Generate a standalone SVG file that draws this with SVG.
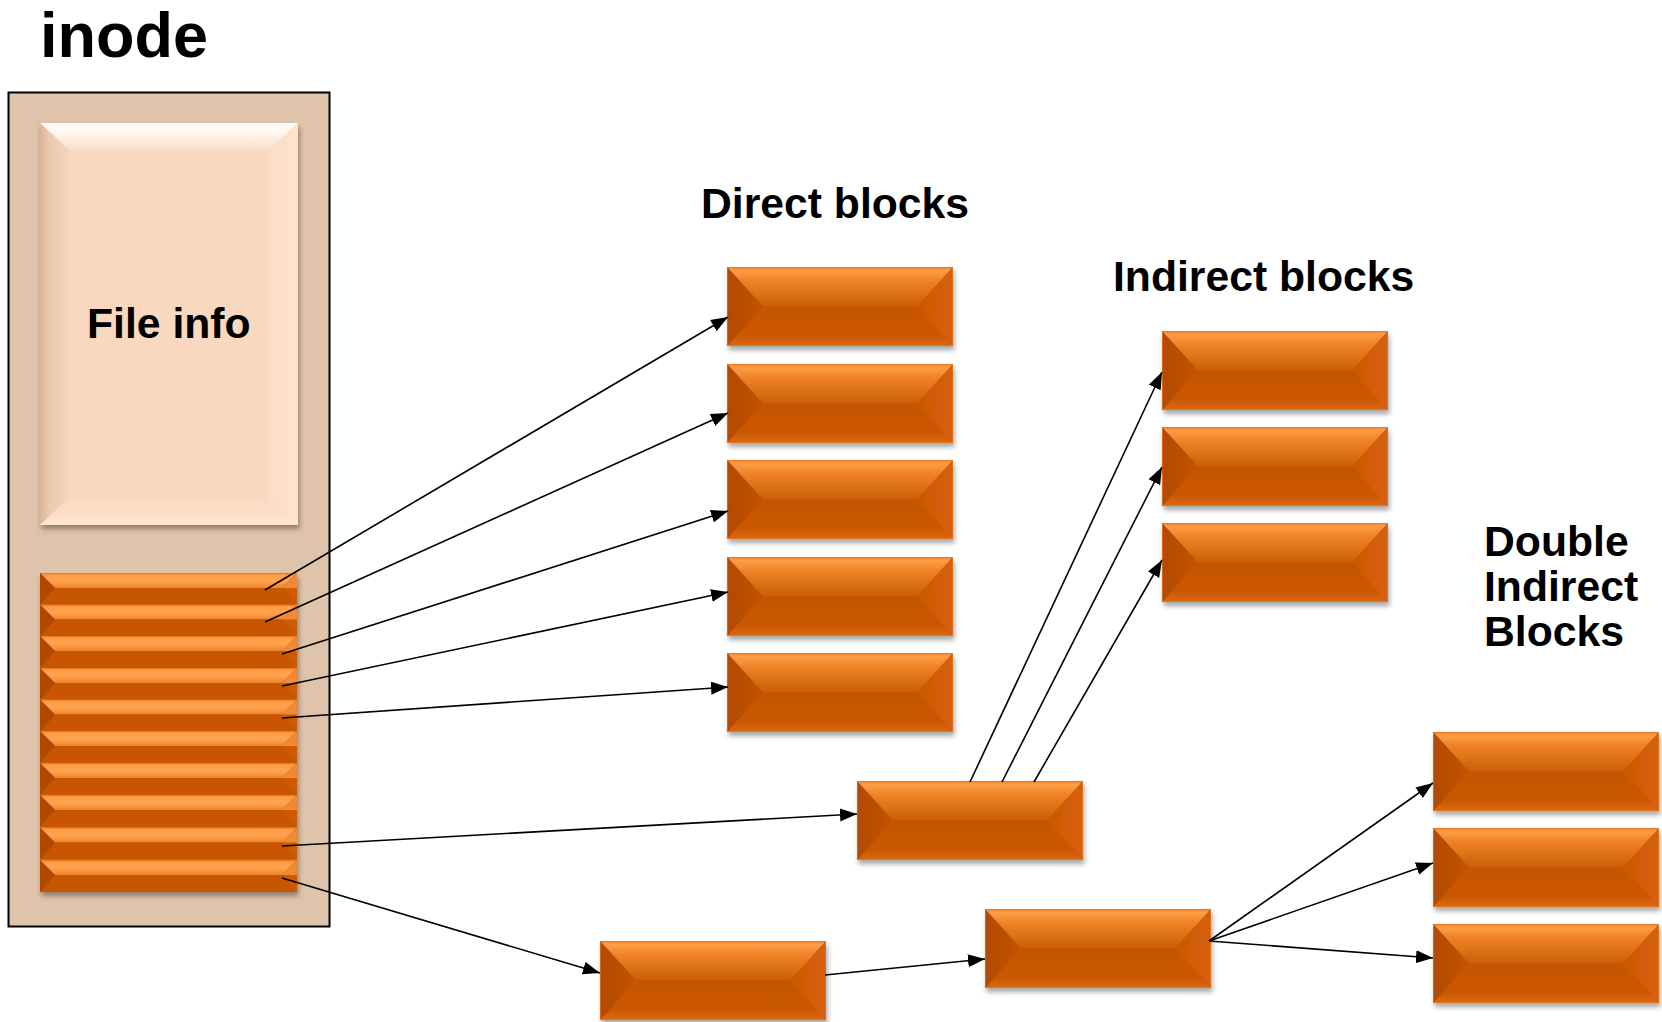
<svg xmlns="http://www.w3.org/2000/svg" xmlns:xlink="http://www.w3.org/1999/xlink" width="1662" height="1022" viewBox="0 0 1662 1022">
  <style>
    .label { font-family: "Liberation Sans", Arial, sans-serif; font-weight: bold; fill: #000; font-size: 42.7px; }
    .conn { stroke: #000; stroke-width: 1.6; fill: none; marker-end: url(#arrow); }
  </style>
  <defs>
    <marker id="arrow" markerUnits="userSpaceOnUse" markerWidth="18" markerHeight="14" refX="17" refY="6.5" orient="auto">
      <path d="M0,0 L17,6.5 L0,13 Z" fill="#000"/>
    </marker>
    <filter id="shadow" x="-10%" y="-10%" width="125%" height="135%">
      <feDropShadow dx="1.5" dy="4" stdDeviation="2.5" flood-color="#000" flood-opacity="0.35"/>
    </filter>
    <!-- orange block bevel gradients -->
    <linearGradient id="bTop" x1="0" y1="0" x2="0" y2="1">
      <stop offset="0" stop-color="#F07A1E"/>
      <stop offset="0.08" stop-color="#FF9E48"/>
      <stop offset="0.35" stop-color="#EE8328"/>
      <stop offset="1" stop-color="#CC5E06"/>
    </linearGradient>
    <linearGradient id="bBot" x1="0" y1="0" x2="0" y2="1">
      <stop offset="0" stop-color="#C65400"/>
      <stop offset="0.75" stop-color="#CB5800"/>
      <stop offset="1" stop-color="#DB6A14"/>
    </linearGradient>
    <linearGradient id="bLeft" x1="0" y1="0" x2="1" y2="0">
      <stop offset="0" stop-color="#B24B00"/>
      <stop offset="1" stop-color="#C35300"/>
    </linearGradient>
    <linearGradient id="bRight" x1="0" y1="0" x2="1" y2="0">
      <stop offset="0" stop-color="#CC5804"/>
      <stop offset="1" stop-color="#D6600A"/>
    </linearGradient>
    <!-- inode pointer stripe gradients -->
    <linearGradient id="sTop" x1="0" y1="0" x2="0" y2="1">
      <stop offset="0" stop-color="#E8741C"/>
      <stop offset="0.15" stop-color="#FF9D48"/>
      <stop offset="0.55" stop-color="#FFA24E"/>
      <stop offset="1" stop-color="#EE8430"/>
    </linearGradient>
    <!-- file info bevel gradients -->
    <linearGradient id="fTop" x1="0" y1="0" x2="0" y2="1">
      <stop offset="0" stop-color="#FFFFFF"/>
      <stop offset="0.4" stop-color="#FFF4EC"/>
      <stop offset="1" stop-color="#F9DCC6"/>
    </linearGradient>
    <linearGradient id="fLeft" x1="0" y1="0" x2="1" y2="0">
      <stop offset="0" stop-color="#D9B395"/>
      <stop offset="0.3" stop-color="#EBC9AE"/>
      <stop offset="1" stop-color="#F7D5BC"/>
    </linearGradient>
    <linearGradient id="fRight" x1="0" y1="0" x2="1" y2="0">
      <stop offset="0" stop-color="#FCDCC4"/>
      <stop offset="1" stop-color="#FFE3CE"/>
    </linearGradient>
    <linearGradient id="fBot" x1="0" y1="0" x2="0" y2="1">
      <stop offset="0" stop-color="#F9D8BF"/>
      <stop offset="1" stop-color="#FFE4D0"/>
    </linearGradient>

    <!-- bevelled data block, 226 x 79 -->
    <g id="block">
      <rect x="0" y="0" width="226" height="79" fill="#C85500"/>
      <path d="M0,0 L226,0 L190,39.5 L36,39.5 Z" fill="url(#bTop)"/>
      <path d="M0,79 L226,79 L190,39.5 L36,39.5 Z" fill="url(#bBot)"/>
      <path d="M0,0 L36,39.5 L0,79 Z" fill="url(#bLeft)"/>
      <path d="M226,0 L190,39.5 L226,79 Z" fill="url(#bRight)"/>
      <rect x="0.5" y="0.5" width="225" height="78" fill="none" stroke="#E8771E" stroke-width="1" stroke-opacity="0.7"/>
    </g>

    <!-- one pointer slot of the inode, 257 x 32 -->
    <g id="slot">
      <rect x="0" y="0" width="257" height="32" fill="#C85500"/>
      <path d="M0,0 L257,0 L242,15 L15,15 Z" fill="url(#sTop)"/>
      <path d="M0,32 L257,32 L242,15 L15,15 Z" fill="#C85400"/>
      <path d="M0,0 L15,15 L0,32 Z" fill="#B04A00"/>
      <path d="M257,0 L242,15 L257,32 Z" fill="#CF5A06"/>
      <path d="M257,0 L242,15 L257,15 Z" fill="#F08A34"/>
    </g>
  </defs>

  <rect width="1662" height="1022" fill="#FFFFFF"/>

  <!-- inode -->
  <g id="inode">
    <text class="label" x="40" y="57" style="font-size:63px">inode</text>
    <rect x="8.5" y="92.5" width="321" height="834" fill="#DFC3AA" stroke="#000" stroke-width="2"/>
  </g>

  <g id="file-info">
    <g filter="url(#shadow)">
      <rect x="40" y="123" width="258" height="402" fill="#F9D8BF"/>
      <path d="M40,123 L298,123 L268,151 L70,151 Z" fill="url(#fTop)"/>
      <path d="M40,123 L70,151 L70,497 L40,525 Z" fill="url(#fLeft)"/>
      <path d="M298,123 L268,151 L268,497 L298,525 Z" fill="url(#fRight)"/>
      <path d="M40,525 L298,525 L268,497 L70,497 Z" fill="url(#fBot)"/>
    </g>
    <text class="label" x="87" y="338">File info</text>
  </g>

  <g id="block-pointers" filter="url(#shadow)">
    <use xlink:href="#slot" x="40" y="573"/>
    <use xlink:href="#slot" x="40" y="604.5"/>
    <use xlink:href="#slot" x="40" y="636"/>
    <use xlink:href="#slot" x="40" y="668"/>
    <use xlink:href="#slot" x="40" y="699.5"/>
    <use xlink:href="#slot" x="40" y="731"/>
    <use xlink:href="#slot" x="40" y="763"/>
    <use xlink:href="#slot" x="40" y="795"/>
    <use xlink:href="#slot" x="40" y="827.5"/>
    <use xlink:href="#slot" x="40" y="860"/>
  </g>

  <!-- direct blocks -->
  <text id="direct-label" class="label" x="701" y="218">Direct blocks</text>
  <g id="direct-1" filter="url(#shadow)"><use xlink:href="#block" x="727" y="267"/></g>
  <g id="direct-2" filter="url(#shadow)"><use xlink:href="#block" x="727" y="364"/></g>
  <g id="direct-3" filter="url(#shadow)"><use xlink:href="#block" x="727" y="460"/></g>
  <g id="direct-4" filter="url(#shadow)"><use xlink:href="#block" x="727" y="557"/></g>
  <g id="direct-5" filter="url(#shadow)"><use xlink:href="#block" x="727" y="653"/></g>

  <!-- single indirect -->
  <g id="single-indirect" filter="url(#shadow)"><use xlink:href="#block" x="857" y="781"/></g>
  <text id="indirect-label" class="label" x="1113" y="291">Indirect blocks</text>
  <g id="indirect-1" filter="url(#shadow)"><use xlink:href="#block" x="1162" y="331"/></g>
  <g id="indirect-2" filter="url(#shadow)"><use xlink:href="#block" x="1162" y="427"/></g>
  <g id="indirect-3" filter="url(#shadow)"><use xlink:href="#block" x="1162" y="523"/></g>

  <!-- double indirect -->
  <g id="double-indirect" filter="url(#shadow)"><use xlink:href="#block" x="600" y="941"/></g>
  <g id="double-level-1" filter="url(#shadow)"><use xlink:href="#block" x="985" y="909"/></g>
  <g id="double-label">
    <text class="label" x="1484" y="556">Double</text>
    <text class="label" x="1484" y="601">Indirect</text>
    <text class="label" x="1484" y="646">Blocks</text>
  </g>
  <g id="double-1" filter="url(#shadow)"><use xlink:href="#block" x="1433" y="732"/></g>
  <g id="double-2" filter="url(#shadow)"><use xlink:href="#block" x="1433" y="828"/></g>
  <g id="double-3" filter="url(#shadow)"><use xlink:href="#block" x="1433" y="924"/></g>

  <!-- pointers -->
  <g id="connectors">
    <line class="conn" x1="265" y1="590" x2="728" y2="317"/>
    <line class="conn" x1="265" y1="622" x2="728" y2="413"/>
    <line class="conn" x1="282" y1="654" x2="728" y2="511"/>
    <line class="conn" x1="282" y1="686" x2="728" y2="592"/>
    <line class="conn" x1="282" y1="718" x2="728" y2="687"/>
    <line class="conn" x1="282" y1="846" x2="857" y2="814"/>
    <line class="conn" x1="282" y1="878" x2="600" y2="973"/>
    <line class="conn" x1="970" y1="782" x2="1162" y2="372"/>
    <line class="conn" x1="1002" y1="782" x2="1162" y2="467"/>
    <line class="conn" x1="1034" y1="782" x2="1162" y2="560"/>
    <line class="conn" x1="825" y1="975" x2="985" y2="959"/>
    <line class="conn" x1="1209" y1="941" x2="1433" y2="783"/>
    <line class="conn" x1="1209" y1="941" x2="1433" y2="863"/>
    <line class="conn" x1="1209" y1="941" x2="1433" y2="958"/>
  </g>
</svg>
